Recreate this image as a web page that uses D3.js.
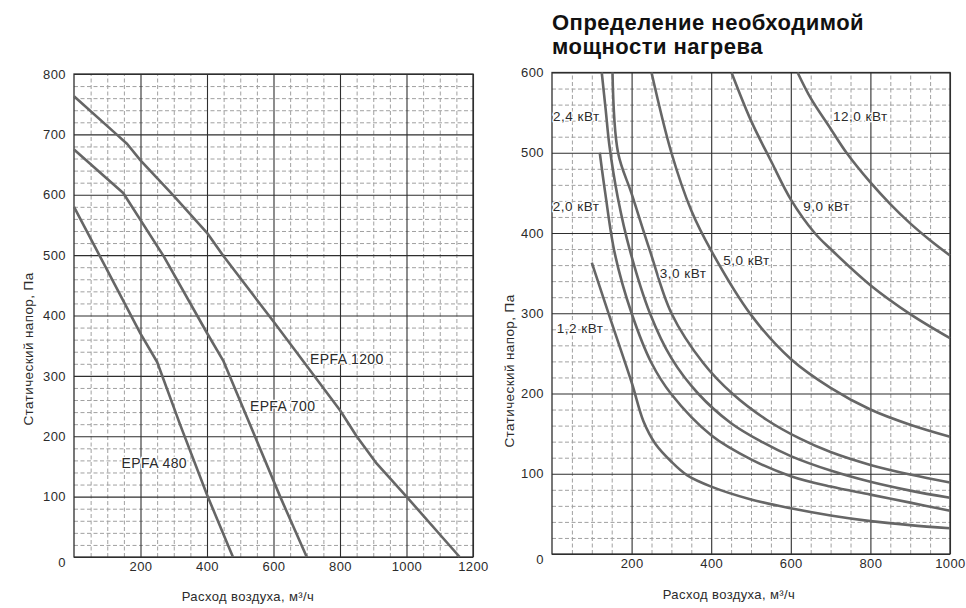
<!DOCTYPE html>
<html><head><meta charset="utf-8">
<script src="https://cdn.jsdelivr.net/npm/d3@7"></script>
<style>
body{margin:0;background:#fff}
</style>
</head><body>
<svg id="c" width="966" height="608"></svg>
<script>
// ---------- DATA ----------
// Left chart: fan characteristics (flow m3/h vs static pressure Pa)
const fanFlowTicks = [200, 400, 600, 800, 1000, 1200];
const fanPressureTicks = [0, 100, 200, 300, 400, 500, 600, 700, 800];
const fanNames = ["EPFA 480", "EPFA 700", "EPFA 1200"];
const epfa480Flow     = [0, 200, 250, 320, 400, 478];
const epfa480Pressure = [580, 370, 323, 218, 103, 0];
const epfa700Flow     = [0, 148, 270, 400, 450, 620, 700];
const epfa700Pressure = [675, 603, 498, 371, 324, 100, 0];
const epfa1200Flow     = [0, 128, 160, 200, 300, 400, 450, 600, 800, 850, 910, 1000, 1160];
const epfa1200Pressure = [763, 700, 684, 657, 598, 537, 498, 390, 243, 200, 155, 100, 0];

// Right chart: heater power curves
const heatFlowTicks = [200, 400, 600, 800, 1000];
const heatPressureTicks = [0, 100, 200, 300, 400, 500, 600];
const heaterNames = ["1,2 кВт", "2,0 кВт", "2,4 кВт", "3,0 кВт", "5,0 кВт", "9,0 кВт", "12,0 кВт"];
const h12Flow  = [100, 150, 200, 230, 260, 300, 340, 400, 500, 600, 700, 800, 900, 1000];
const h12Press = [363, 288, 214, 165, 137, 115, 98, 84, 68, 57, 48, 41, 36, 32];
const h20Flow  = [120, 134, 158, 200, 250, 300, 400, 500, 600, 700, 800, 900, 1000];
const h20Press = [500, 449, 374, 300, 238, 199, 148, 118, 97, 84, 74, 64, 54];
const h24Flow  = [125, 135, 144, 165, 196, 246, 300, 367, 450, 530, 600, 700, 800, 900, 1000];
const h24Press = [600, 553, 510, 445, 378, 300, 244, 200, 163, 139, 122, 104, 90, 79, 70];
const h30Flow  = [152, 166, 200, 246, 300, 380, 455, 540, 622, 700, 800, 900, 1000];
const h30Press = [600, 500, 449, 378, 300, 238, 199, 167, 144, 127, 111, 99, 89];
const h50Flow  = [250, 300, 350, 400, 500, 600, 700, 800, 900, 1000];
const h50Press = [600, 500, 428, 378, 298, 243, 207, 180, 161, 146];
const h90Flow  = [451, 500, 550, 601, 660, 700, 800, 900, 1000];
const h90Press = [600, 540, 490, 441, 400, 380, 335, 299, 269];
const h120Flow  = [617, 650, 700, 740, 800, 850, 900, 950, 1000];
const h120Press = [600, 568, 530, 500, 463, 436, 412, 391, 372];

// label anchors (in data units: flow, pressure)
const fanLabelFlow = [143, 529, 710];
const fanLabelPress = [147, 241, 320];
const heaterLabelFlow = [12, 2, 2.5, 271, 430, 631, 706];
const heaterLabelPress = [275, 427, 539, 344, 360, 427, 539];

const axisTitleX = "Расход воздуха, м³/ч";
const axisTitleY = "Статический напор, Па";
const chartTitle = ["Определение необходимой", "мощности нагрева"];

// ---------- DRAW ----------
const FONT = '"Liberation Sans",Arial,sans-serif';
const svg = d3.select("#c");
const zip = (a, b) => a.map((v, i) => [v, b[i]]);
const txt = (sel, size, ls) => sel.style("font-family", FONT).attr("font-size", size)
  .attr("letter-spacing", ls).attr("fill", "#2b2b2b");

function panel(x, y, xMajor, yMajor, xTicks, yTicks) {
  const [x0, x1] = x.range();
  const [y0, y1] = y.range();
  const W = x1 - x0, H = y0 - y1;
  const g = svg.append("g");
  const xMax = x.domain()[1], yMax = y.domain()[1];
  const xMinor = d3.range(50, xMax, 50).filter(v => v % 200 !== 0);
  const yMinor = d3.range(20, yMax, 20).filter(v => v % 100 !== 0);
  const style = (sel, color, dash, w) => {
    sel.select(".domain").remove();
    sel.selectAll("line").attr("stroke", color).attr("stroke-width", w)
      .attr("stroke-dasharray", dash);
  };
  g.append("g").attr("transform", `translate(0,${y0})`)
    .call(d3.axisBottom(x).tickValues(xMinor).tickSize(-H).tickFormat(""))
    .call(s => style(s, "#a0a0a0", "4,2.5", 1));
  g.append("g").attr("transform", `translate(${x0},0)`)
    .call(d3.axisLeft(y).tickValues(yMinor).tickSize(-W).tickFormat(""))
    .call(s => style(s, "#a0a0a0", "4,2.5", 1));
  g.append("g").attr("transform", `translate(0,${y0})`)
    .call(d3.axisBottom(x).tickValues(xMajor).tickSize(-H).tickFormat(""))
    .call(s => style(s, "#2e2e2e", null, 1.1));
  g.append("g").attr("transform", `translate(${x0},0)`)
    .call(d3.axisLeft(y).tickValues(yMajor).tickSize(-W).tickFormat(""))
    .call(s => style(s, "#2e2e2e", null, 1.1));
  g.append("rect").attr("x", x0).attr("y", y1).attr("width", W).attr("height", H)
    .attr("fill", "none").attr("stroke", "#2e2e2e").attr("stroke-width", 1.3);
  // tick labels
  const fmt = d3.format("d");
  const xa = g.append("g").attr("transform", `translate(0,${y0})`)
    .call(d3.axisBottom(x).tickValues(xTicks).tickSize(0).tickPadding(5).tickFormat(fmt));
  xa.select(".domain").remove();
  txt(xa.selectAll("text"), 13, 0.4);
  const ya = g.append("g").attr("transform", `translate(${x0},0)`)
    .call(d3.axisLeft(y).tickValues(yTicks).tickSize(0).tickPadding(8).tickFormat(fmt));
  ya.select(".domain").remove();
  txt(ya.selectAll("text"), 13, 0.4)
    .attr("dy", d => d === 0 ? "0.75em" : "0.32em");
  return g;
}

function curves(g, x, y, series, curveType) {
  const line = d3.line().x(d => x(d[0])).y(d => y(d[1])).curve(curveType);
  g.append("g").selectAll("path").data(series).join("path")
    .attr("d", line).attr("fill", "none").attr("stroke", "#666")
    .attr("stroke-width", 2.6).attr("stroke-linejoin", "round");
}

function labels(g, x, y, names, fx, fy, size, ls) {
  txt(g.append("g").selectAll("text").data(names).join("text")
    .attr("x", (d, i) => x(fx[i])).attr("y", (d, i) => y(fy[i])), size, ls)
    .attr("stroke", "#fff").attr("stroke-width", 2.5).attr("paint-order", "stroke")
    .text(d => d);
}

// Left chart
const xL = d3.scaleLinear().domain([0, 1200]).range([74, 473]);
const yL = d3.scaleLinear().domain([0, 800]).range([557, 74]);
const gL = panel(xL, yL, fanFlowTicks, fanPressureTicks, fanFlowTicks, fanPressureTicks);
curves(gL, xL, yL, [zip(epfa480Flow, epfa480Pressure), zip(epfa700Flow, epfa700Pressure),
  zip(epfa1200Flow, epfa1200Pressure)], d3.curveLinear);
labels(gL, xL, yL, fanNames, fanLabelFlow, fanLabelPress, 14, 0.4);

// Right chart
const xR = d3.scaleLinear().domain([0, 1000]).range([552, 950]);
const yR = d3.scaleLinear().domain([0, 600]).range([554, 72.5]);
const gR = panel(xR, yR, heatFlowTicks, heatPressureTicks, heatFlowTicks, heatPressureTicks);
curves(gR, xR, yR, [zip(h12Flow, h12Press), zip(h20Flow, h20Press), zip(h24Flow, h24Press),
  zip(h30Flow, h30Press), zip(h50Flow, h50Press), zip(h90Flow, h90Press),
  zip(h120Flow, h120Press)], d3.curveCatmullRom.alpha(0.5));
labels(gR, xR, yR, heaterNames, heaterLabelFlow, heaterLabelPress, 13.5, 0.5);

// Axis titles
[[248, 601], [729, 599]].forEach(p => {
  txt(svg.append("text").attr("x", p[0]).attr("y", p[1]).attr("text-anchor", "middle"), 13, 0.4)
    .text(axisTitleX);
});
[[33, 349], [514, 371]].forEach(p => {
  txt(svg.append("text").attr("transform", `translate(${p[0]},${p[1]}) rotate(-90)`)
    .attr("text-anchor", "middle"), 13.5, 0.4).text(axisTitleY);
});

// Title
svg.append("g").selectAll("text").data(chartTitle).join("text")
  .attr("x", 552).attr("y", (d, i) => 30 + i * 24)
  .style("font-family", FONT).style("font-weight", "bold")
  .attr("font-size", 22).attr("letter-spacing", 0.5).attr("fill", "#111")
  .text(d => d);
</script>
</body></html>
